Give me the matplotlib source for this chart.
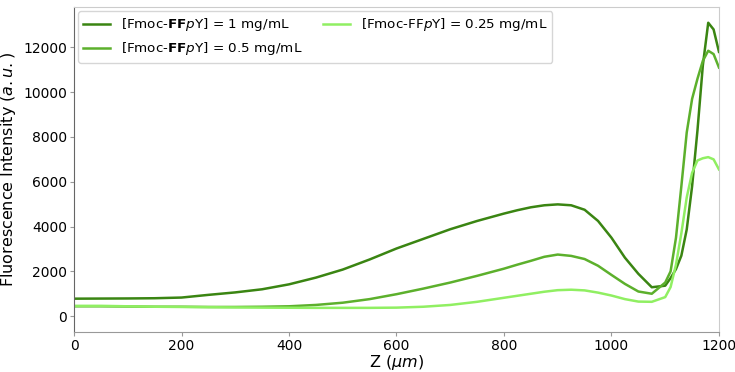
import matplotlib
matplotlib.use('Agg')
import matplotlib.pyplot as plt
import numpy as np

z = [0, 50, 100, 150, 200, 250, 300, 350, 400, 450, 500, 550, 600, 650, 700,
     750, 800, 825, 850, 875, 900, 925, 950, 975, 1000, 1025, 1050, 1075, 1100,
     1110, 1120, 1130, 1140, 1150, 1160, 1170, 1180, 1190, 1200]

# [Fmoc-FFpY] = 1 mg/mL
c_1 = [780, 785, 790, 800, 830, 950, 1060, 1200, 1420, 1720, 2080, 2530, 3020,
       3450, 3880, 4250, 4580, 4730, 4860, 4950, 4990, 4950, 4750, 4250, 3500,
       2610, 1890, 1290, 1360, 1700, 2100, 2700, 3870, 5800, 8300, 11200,
       13100, 12800, 11800]
# [Fmoc-FFpY] = 0.5 mg/mL
c_05 = [440, 440, 430, 420, 420, 410, 410, 420, 440, 500, 600, 760, 980, 1230,
        1500, 1800, 2120, 2300, 2470, 2650, 2750, 2690, 2550, 2250, 1840, 1440,
        1100, 1000, 1500, 2000, 3500, 5800, 8200, 9700, 10600, 11400, 11850,
        11700, 11100]
# [Fmoc-FFpY] = 0.25 mg/mL
c_025 = [460, 460, 440, 420, 410, 400, 390, 380, 375, 370, 370, 370, 380, 420,
         500, 640, 820, 910, 1000, 1090, 1160, 1180, 1150, 1050, 920, 760, 650,
         640, 850, 1300, 2300, 3700, 5300, 6400, 6950, 7050, 7100, 7000, 6550]

labels = [r'[Fmoc-$\mathbf{FF}$$\mathit{p}$Y] = 1 mg/mL',
          r'[Fmoc-$\mathbf{FF}$$\mathit{p}$Y] = 0.5 mg/mL',
          r'[Fmoc-FF$\mathit{p}$Y] = 0.25 mg/mL']
colors = ['#3a8512', '#5cb02c', '#90ef62']

fig = plt.figure(figsize=(7.35, 3.72), dpi=100)
ax = fig.add_axes([0.1007, 0.108, 0.8775, 0.873])

for vals, lab, col in zip([c_1, c_05, c_025], labels, colors):
    ax.plot(z, vals, color=col, lw=1.8, label=lab)

ax.set_xlim(0, 1200)
ax.set_ylim(-700, 13800)
ax.set_xticks([0, 200, 400, 600, 800, 1000, 1200])
ax.set_yticks([0, 2000, 4000, 6000, 8000, 10000, 12000])
ax.tick_params(labelsize=10, length=3, pad=2, color='#999999')

for side in ['top', 'right']:
    ax.spines[side].set_color('#cccccc')
ax.spines['left'].set_color('#666666')
ax.spines['bottom'].set_color('#999999')

ax.set_xlabel(r'Z ($\mu m$)', fontsize=11.5, labelpad=0)
ax.set_ylabel(r'Fluorescence Intensity ($a.u.$)', fontsize=11.5, labelpad=4)

ax.legend(loc='upper left', ncol=2, fontsize=9.7, frameon=True,
          handlelength=2.0, columnspacing=1.5, borderaxespad=0.3)

fig.savefig('out.png', dpi=100)
